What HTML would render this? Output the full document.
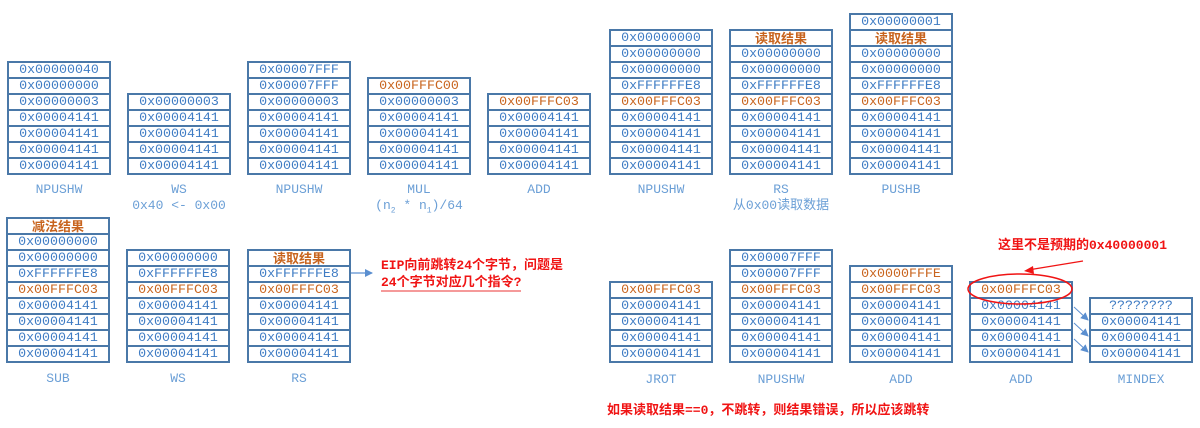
<!DOCTYPE html>
<html><head><meta charset="utf-8"><style>
body{margin:0;width:1200px;height:428px;background:#fff;position:relative;overflow:hidden;font-family:"Liberation Mono","Noto Sans CJK SC",monospace;}
.s{position:absolute;width:100px;border:2px solid #4a78a8;background:#fff}
.s div{height:14px;line-height:14px;border-bottom:2px solid #4a78a8;text-align:center;font-size:13.3px;color:#3f7cc4}
.s div:last-child{border-bottom:none}
.s div.o{color:#c8641e}
.s div.c{color:#c8641e;font-weight:bold;font-family:"Noto Sans CJK SC",sans-serif;font-size:13px}
.l{position:absolute;width:140px;text-align:center;font-size:13px;color:#6b9fd6;line-height:16px}
.r{position:absolute;color:#f01414;font-weight:bold;font-size:13px;font-family:"Liberation Mono","Noto Sans CJK SC",sans-serif;line-height:17px}
</style></head><body>
<!-- top row -->
<div class="s" style="left:7px;top:61px"><div>0x00000040</div><div>0x00000000</div><div>0x00000003</div><div>0x00004141</div><div>0x00004141</div><div>0x00004141</div><div>0x00004141</div></div>
<div class="l" style="left:-11px;top:182px">NPUSHW</div>
<div class="s" style="left:127px;top:93px"><div>0x00000003</div><div>0x00004141</div><div>0x00004141</div><div>0x00004141</div><div>0x00004141</div></div>
<div class="l" style="left:109px;top:182px">WS<br>0x40 &lt;- 0x00</div>
<div class="s" style="left:247px;top:61px"><div>0x00007FFF</div><div>0x00007FFF</div><div>0x00000003</div><div>0x00004141</div><div>0x00004141</div><div>0x00004141</div><div>0x00004141</div></div>
<div class="l" style="left:229px;top:182px">NPUSHW</div>
<div class="s" style="left:367px;top:77px"><div class="o">0x00FFFC00</div><div>0x00000003</div><div>0x00004141</div><div>0x00004141</div><div>0x00004141</div><div>0x00004141</div></div>
<div class="l" style="left:349px;top:182px">MUL<br>(n<sub style="font-size:8px">2</sub> * n<sub style="font-size:8px">1</sub>)/64</div>
<div class="s" style="left:487px;top:93px"><div class="o">0x00FFFC03</div><div>0x00004141</div><div>0x00004141</div><div>0x00004141</div><div>0x00004141</div></div>
<div class="l" style="left:469px;top:182px">ADD</div>
<div class="s" style="left:609px;top:29px"><div>0x00000000</div><div>0x00000000</div><div>0x00000000</div><div>0xFFFFFFE8</div><div class="o">0x00FFFC03</div><div>0x00004141</div><div>0x00004141</div><div>0x00004141</div><div>0x00004141</div></div>
<div class="l" style="left:591px;top:182px">NPUSHW</div>
<div class="s" style="left:729px;top:29px"><div class="c">读取结果</div><div>0x00000000</div><div>0x00000000</div><div>0xFFFFFFE8</div><div class="o">0x00FFFC03</div><div>0x00004141</div><div>0x00004141</div><div>0x00004141</div><div>0x00004141</div></div>
<div class="l" style="left:711px;top:182px">RS<br><span style="font-family:'Liberation Mono','Noto Sans CJK SC',monospace">从0x00读取数据</span></div>
<div class="s" style="left:849px;top:13px"><div>0x00000001</div><div class="c">读取结果</div><div>0x00000000</div><div>0x00000000</div><div>0xFFFFFFE8</div><div class="o">0x00FFFC03</div><div>0x00004141</div><div>0x00004141</div><div>0x00004141</div><div>0x00004141</div></div>
<div class="l" style="left:831px;top:182px">PUSHB</div>
<!-- bottom row -->
<div class="s" style="left:6px;top:217px"><div class="c">减法结果</div><div>0x00000000</div><div>0x00000000</div><div>0xFFFFFFE8</div><div class="o">0x00FFFC03</div><div>0x00004141</div><div>0x00004141</div><div>0x00004141</div><div>0x00004141</div></div>
<div class="l" style="left:-12px;top:371px">SUB</div>
<div class="s" style="left:126px;top:249px"><div>0x00000000</div><div>0xFFFFFFE8</div><div class="o">0x00FFFC03</div><div>0x00004141</div><div>0x00004141</div><div>0x00004141</div><div>0x00004141</div></div>
<div class="l" style="left:108px;top:371px">WS</div>
<div class="s" style="left:247px;top:249px"><div class="c">读取结果</div><div>0xFFFFFFE8</div><div class="o">0x00FFFC03</div><div>0x00004141</div><div>0x00004141</div><div>0x00004141</div><div>0x00004141</div></div>
<div class="l" style="left:229px;top:371px">RS</div>
<div class="s" style="left:609px;top:281px"><div class="o">0x00FFFC03</div><div>0x00004141</div><div>0x00004141</div><div>0x00004141</div><div>0x00004141</div></div>
<div class="l" style="left:591px;top:372px">JROT</div>
<div class="s" style="left:729px;top:249px"><div>0x00007FFF</div><div>0x00007FFF</div><div class="o">0x00FFFC03</div><div>0x00004141</div><div>0x00004141</div><div>0x00004141</div><div>0x00004141</div></div>
<div class="l" style="left:711px;top:372px">NPUSHW</div>
<div class="s" style="left:849px;top:265px"><div class="o">0x0000FFFE</div><div class="o">0x00FFFC03</div><div>0x00004141</div><div>0x00004141</div><div>0x00004141</div><div>0x00004141</div></div>
<div class="l" style="left:831px;top:372px">ADD</div>
<div class="s" style="left:969px;top:281px"><div class="o">0x00FFFC03</div><div>0x00004141</div><div>0x00004141</div><div>0x00004141</div><div>0x00004141</div></div>
<div class="l" style="left:951px;top:372px">ADD</div>
<div class="s" style="left:1089px;top:297px"><div>????????</div><div>0x00004141</div><div>0x00004141</div><div>0x00004141</div></div>
<div class="l" style="left:1071px;top:372px">MINDEX</div>
<!-- annotations -->
<div class="r" style="left:381px;top:257px">EIP向前跳转24个字节，问题是<br><span style="border-bottom:2px solid #f59a9a">24个字节对应几个指令?</span></div>
<div class="r" style="left:607px;top:402px">如果读取结果==0，不跳转，则结果错误，所以应该跳转</div>
<div class="r" style="left:998px;top:237px">这里不是预期的0x40000001</div>
<svg width="1200" height="428" style="position:absolute;left:0;top:0" xmlns="http://www.w3.org/2000/svg">
<defs>
<marker id="b" markerWidth="8" markerHeight="8" refX="7" refY="4" orient="auto" markerUnits="userSpaceOnUse"><path d="M0,0 L8,4 L0,8 z" fill="#5b8fd0"/></marker>
</defs>
<line x1="351" y1="273" x2="372" y2="273" stroke="#5b8fd0" stroke-width="1.2" marker-end="url(#b)"/>
<line x1="1074" y1="307" x2="1088" y2="320" stroke="#5b8fd0" stroke-width="1" marker-end="url(#b)"/>
<line x1="1074" y1="323" x2="1088" y2="336" stroke="#5b8fd0" stroke-width="1" marker-end="url(#b)"/>
<line x1="1074" y1="339" x2="1088" y2="352" stroke="#5b8fd0" stroke-width="1" marker-end="url(#b)"/>
<ellipse cx="1020" cy="289" rx="52" ry="15" fill="none" stroke="#f01414" stroke-width="1.5"/>
<line x1="1083" y1="261" x2="1028" y2="270" stroke="#f01414" stroke-width="1.2"/>
<path d="M1024,271 l9,-5 l1,8 z" fill="#f01414"/>
</svg>
</body></html>
